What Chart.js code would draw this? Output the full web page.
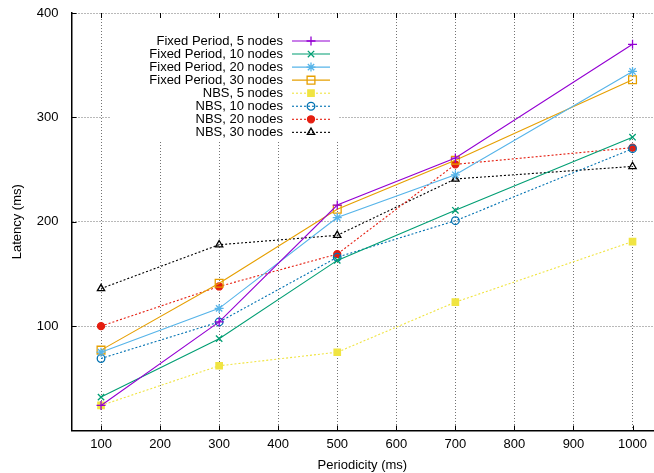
<!DOCTYPE html>
<html>
<head>
<meta charset="utf-8">
<script src="https://cdn.jsdelivr.net/npm/chart.js@4/dist/chart.umd.min.js"></script>
<style>
  html, body { margin: 0; padding: 0; background: #fff; overflow: hidden; width: 654px; height: 473px; }
  canvas { display: block; }
</style>
</head>
<body>
<canvas id="c" width="660" height="473"></canvas>
<script>
// ---- data ----
const periodicity = [100, 300, 500, 700, 1000];
const xTicks = [100, 200, 300, 400, 500, 600, 700, 800, 900, 1000];
const yTicks = [100, 200, 300, 400];

const fixed5  = [24, 104, 216, 261, 370];
const fixed10 = [32, 88, 163, 211, 281];
const fixed20 = [75, 117, 204, 245, 344];
const fixed30 = [77, 141, 212, 259, 336];
const nbs5    = [24, 62, 75, 123, 181];
const nbs10   = [69, 104, 166, 201, 270];
const nbs20   = [100, 138, 169, 255, 271];
const nbs30   = [136, 178, 187, 241, 253];

const seriesNames = [
  'Fixed Period, 5 nodes', 'Fixed Period, 10 nodes', 'Fixed Period, 20 nodes', 'Fixed Period, 30 nodes',
  'NBS, 5 nodes', 'NBS, 10 nodes', 'NBS, 20 nodes', 'NBS, 30 nodes'
];
const seriesValues = [fixed5, fixed10, fixed20, fixed30, nbs5, nbs10, nbs20, nbs30];

// ---- styles ----
const FONT = '"Liberation Sans", Arial, Helvetica, sans-serif';
const styles = [
  { color: '#9400d3', dash: [], pointStyle: 'cross', r: 4.5, fill: false },
  { color: '#009e73', dash: [], pointStyle: 'crossRot', r: 4.5, fill: false },
  { color: '#56b4e9', dash: [], pointStyle: 'star', r: 4.5, fill: false },
  { color: '#e69f00', dash: [], pointStyle: 'rect', r: 5.5, fill: false },
  { color: '#f0e442', dash: [2, 2], pointStyle: 'rect', r: 4.5, fill: true },
  { color: '#0072b2', dash: [2, 2], pointStyle: 'circle', r: 3.8, fill: false },
  { color: '#e51e10', dash: [2, 2], pointStyle: 'circle', r: 3.5, fill: true },
  { color: '#000000', dash: [2, 2], pointStyle: 'triangle', r: 4.2, fill: false }
];

const datasets = seriesNames.map((name, i) => ({
  label: name,
  data: periodicity.map((p, j) => ({ x: p, y: seriesValues[i][j] })),
  borderColor: styles[i].color,
  backgroundColor: styles[i].fill ? styles[i].color : 'rgba(255,255,255,0)',
  borderWidth: 1.1,
  borderDash: styles[i].dash,
  pointStyle: styles[i].pointStyle,
  pointRadius: styles[i].r,
  pointHoverRadius: styles[i].r,
  pointBorderColor: styles[i].color,
  pointBackgroundColor: styles[i].fill ? styles[i].color : 'rgba(255,255,255,0)',
  pointBorderWidth: 1.3,
  tension: 0,
  fill: false
}));

function drawMarker(ctx, st, x, y) {
  ctx.save();
  ctx.setLineDash([]);
  ctx.strokeStyle = st.color;
  ctx.fillStyle = st.fill ? st.color : 'rgba(255,255,255,0)';
  ctx.lineWidth = 1.3;
  if (Chart.helpers && Chart.helpers.drawPoint) {
    Chart.helpers.drawPoint(ctx, { pointStyle: st.pointStyle, radius: st.r, rotation: 0, borderWidth: 1.3 }, x, y);
  }
  ctx.restore();
}

const legendBoxPlugin = {
  id: 'legendBox',
  beforeDatasetsDraw(chart) {
    const ctx = chart.ctx;
    const a = chart.chartArea;
    ctx.save();
    ctx.fillStyle = '#ffffff';
    ctx.fillRect(110, a.top + 1.5, 228, 140 - a.top);
    ctx.font = '13px ' + FONT;
    ctx.textAlign = 'right';
    ctx.textBaseline = 'middle';
    for (let i = 0; i < seriesNames.length; i++) {
      const y = 41 + i * 13.05;
      ctx.fillStyle = '#000';
      ctx.fillText(seriesNames[i], 283, y);
      ctx.strokeStyle = styles[i].color;
      ctx.lineWidth = 1.1;
      ctx.setLineDash(styles[i].dash);
      ctx.beginPath();
      ctx.moveTo(292, y);
      ctx.lineTo(330, y);
      ctx.stroke();
      ctx.setLineDash([]);
      drawMarker(ctx, styles[i], 311, y);
    }
    ctx.restore();
  },
  afterDatasetsDraw(chart) {
    // inward tick marks (gnuplot style)
    const ctx = chart.ctx;
    const a = chart.chartArea;
    const xs = chart.scales.x, ys = chart.scales.y;
    ctx.save();
    ctx.strokeStyle = '#000';
    ctx.lineWidth = 1;
    ctx.setLineDash([]);
    ctx.beginPath();
    xTicks.forEach(v => {
      const px = Math.round(xs.getPixelForValue(v)) + 0.5;
      ctx.moveTo(px, a.bottom); ctx.lineTo(px, a.bottom - 5);
      ctx.moveTo(px, a.top); ctx.lineTo(px, a.top + 5);
    });
    yTicks.forEach(v => {
      const py = Math.round(ys.getPixelForValue(v)) + 0.5;
      ctx.moveTo(a.left, py); ctx.lineTo(a.left + 5, py);
    });
    ctx.stroke();
    ctx.restore();
  }
};

function zeroPad(scale) {
  scale.paddingTop = 0; scale.paddingBottom = 0;
  scale.paddingLeft = 0; scale.paddingRight = 0;
}

new Chart(document.getElementById('c'), {
  type: 'line',
  data: { datasets },
  options: {
    responsive: false,
    animation: false,
    events: [],
    layout: { padding: { top: 13, right: 0, left: 0, bottom: 0 } },
    plugins: { legend: { display: false }, tooltip: { enabled: false } },
    scales: {
      x: {
        type: 'linear',
        min: 50,
        max: 1035,
        afterBuildTicks(scale) { scale.ticks = xTicks.map(v => ({ value: v })); },
        afterFit(scale) { scale.height = 42.5; zeroPad(scale); },
        grid: { color: 'rgba(0,0,0,0.55)', drawTicks: false, lineWidth: 1 },
        border: { display: true, color: '#000', width: 1.5, dash: [1, 2] },
        ticks: { color: '#000', font: { family: FONT, size: 13 }, padding: 6, maxRotation: 0, autoSkip: false,
                 callback: v => String(v) },
        title: { display: true, text: 'Periodicity (ms)', color: '#000', font: { family: FONT, size: 13 }, padding: { top: 2, bottom: 0 } }
      },
      y: {
        type: 'linear',
        min: 0,
        max: 400,
        afterBuildTicks(scale) { scale.ticks = yTicks.map(v => ({ value: v })); },
        afterFit(scale) { scale.width = 71.5; zeroPad(scale); },
        grid: { color: 'rgba(0,0,0,0.55)', drawTicks: false, lineWidth: 1 },
        border: { display: true, color: '#000', width: 1.5, dash: [1, 2] },
        ticks: { color: '#000', font: { family: FONT, size: 13 }, padding: 13, callback: v => String(v) },
        title: { display: true, text: 'Latency (ms)', color: '#000', font: { family: FONT, size: 13 }, padding: { top: 10, bottom: 4 } }
      }
    }
  },
  plugins: [legendBoxPlugin]
});
</script>
</body>
</html>
